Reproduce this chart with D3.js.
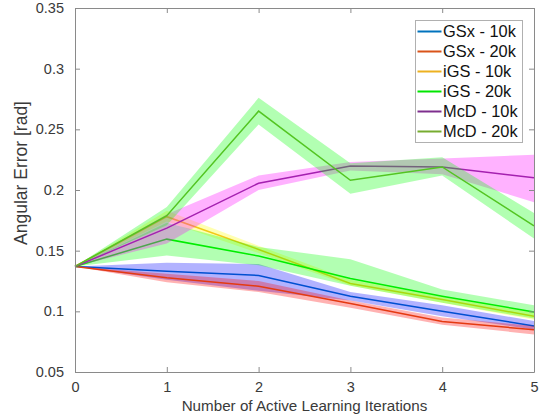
<!DOCTYPE html>
<html>
<head>
<meta charset="utf-8">
<script src="https://cdn.jsdelivr.net/npm/d3@7"></script>
<style>
  body { margin: 0; background: #fff; }
  svg text { font-family: "Liberation Sans", Arial, sans-serif; }
</style>
</head>
<body>
<div id="plot-container"></div>
<script>
// chart size and margins
var totalWidth = 540, totalHeight = 419;
var margins = {top: 8, right: 6, bottom: 47, left: 75};
var width = totalWidth - margins.left - margins.right;
var height = totalHeight - margins.top - margins.bottom;

// data
var iterations = [0, 1, 2, 3, 4, 5];
var xTicks = [0, 1, 2, 3, 4, 5];
var yTicks = [0.05, 0.1, 0.15, 0.2, 0.25, 0.3, 0.35];
var seriesNames = ['GSx - 10k', 'GSx - 20k', 'iGS - 10k', 'iGS - 20k', 'McD - 10k', 'McD - 20k'];
var lineColors = ['#0072BD', '#D95319', '#EDB120', '#00E600', '#7E2F8E', '#77AC30'];
var bandColors = ['#0000FF', '#FF0000', '#FFFF00', '#00FF00', '#FF00FF', '#00FF00'];

var gsx10Mean = [0.137, 0.133, 0.1296, 0.1125, 0.100, 0.088];
var gsx10Lo   = [0.137, 0.126, 0.117, 0.109, 0.096, 0.085];
var gsx10Hi   = [0.137, 0.140, 0.139, 0.116, 0.105, 0.092];

var gsx20Mean = [0.137, 0.1277, 0.1207, 0.1064, 0.0917, 0.0848];
var gsx20Lo   = [0.137, 0.124, 0.116, 0.103, 0.089, 0.081];
var gsx20Hi   = [0.137, 0.131, 0.125, 0.109, 0.095, 0.088];

var igs10Mean = [0.137, 0.178, 0.151, 0.123, 0.1097, 0.0959];
var igs10Lo   = [0.137, 0.174, 0.148, 0.121, 0.107, 0.093];
var igs10Hi   = [0.137, 0.183, 0.154, 0.126, 0.112, 0.099];

var igs20Mean = [0.137, 0.1595, 0.1456, 0.127, 0.1125, 0.0995];
var igs20Lo   = [0.137, 0.146, 0.138, 0.121, 0.107, 0.094];
var igs20Hi   = [0.137, 0.173, 0.153, 0.143, 0.118, 0.105];

var mcd10Mean = [0.137, 0.1686, 0.2056, 0.2197, 0.219, 0.210];
var mcd10Lo   = [0.137, 0.156, 0.200, 0.216, 0.213, 0.190];
var mcd10Hi   = [0.137, 0.180, 0.212, 0.223, 0.226, 0.229];

var mcd20Mean = [0.137, 0.1788, 0.265, 0.208, 0.219, 0.1705];
var mcd20Lo   = [0.137, 0.171, 0.254, 0.197, 0.212, 0.160];
var mcd20Hi   = [0.137, 0.186, 0.276, 0.222, 0.227, 0.181];

var means = [gsx10Mean, gsx20Mean, igs10Mean, igs20Mean, mcd10Mean, mcd20Mean];
var lows  = [gsx10Lo, gsx20Lo, igs10Lo, igs20Lo, mcd10Lo, mcd20Lo];
var highs = [gsx10Hi, gsx20Hi, igs10Hi, igs20Hi, mcd10Hi, mcd20Hi];

var series = seriesNames.map(function(name, i) {
  return {name: name, color: lineColors[i], band: bandColors[i],
    points: iterations.map(function(x, j) { return {x: x, y: means[i][j], lo: lows[i][j], hi: highs[i][j]}; })};
});

// scales
var xScale = d3.scaleLinear().domain([0, 5]).range([0, width]);
var yScale = d3.scaleLinear().domain([0.05, 0.35]).range([height, 0]);

var line = d3.line().x(function(d) { return xScale(d.x); }).y(function(d) { return yScale(d.y); });
var area = d3.area().x(function(d) { return xScale(d.x); })
  .y0(function(d) { return yScale(d.lo); }).y1(function(d) { return yScale(d.hi); });

var svg = d3.select('#plot-container').append('svg').attr('width', totalWidth).attr('height', totalHeight);
var plot = svg.append('g').attr('transform', 'translate(' + [margins.left, margins.top] + ')');

var axisColor = '#8a8a8a', textColor = '#3a3a3a';

// series: line then translucent band on top
series.forEach(function(s) {
  plot.append('path').attr('d', line(s.points)).attr('fill', 'none')
    .attr('stroke', s.color).attr('stroke-width', 1.5);
  plot.append('path').attr('d', area(s.points)).attr('fill', s.band)
    .attr('fill-opacity', 0.3).attr('stroke', 'none');
});

// axes, MATLAB box style with inward ticks
var tickLen = 5;
function styleAxis(g) {
  g.select('.domain').attr('stroke', axisColor);
  g.selectAll('.tick line').attr('stroke', axisColor);
  g.selectAll('.tick text').attr('fill', textColor).style('font-size', '14.5px');
}
plot.append('g').attr('transform', 'translate(0,' + height + ')')
  .call(d3.axisBottom(xScale).tickValues(xTicks).tickFormat(d3.format('d')).tickSizeInner(-tickLen).tickSizeOuter(0).tickPadding(10))
  .call(styleAxis);
plot.append('g')
  .call(d3.axisTop(xScale).tickValues(xTicks).tickFormat('').tickSizeInner(-tickLen).tickSizeOuter(0))
  .call(styleAxis);
plot.append('g')
  .call(d3.axisLeft(yScale).tickValues(yTicks).tickFormat(function(d) { return d3.format('')(+d.toFixed(2)); }).tickSizeInner(-tickLen).tickSizeOuter(0).tickPadding(11))
  .call(styleAxis);
plot.append('g').attr('transform', 'translate(' + width + ',0)')
  .call(d3.axisRight(yScale).tickValues(yTicks).tickFormat('').tickSizeInner(-tickLen).tickSizeOuter(0))
  .call(styleAxis);

// axis labels
svg.append('text').attr('x', margins.left + width / 2).attr('y', 411)
  .attr('text-anchor', 'middle').attr('fill', textColor).style('font-size', '15.2px')
  .text('Number of Active Learning Iterations');
svg.append('text').attr('transform', 'translate(27,173) rotate(-90)')
  .attr('text-anchor', 'middle').attr('fill', textColor).style('font-size', '17.5px')
  .text('Angular Error [rad]');

// legend
var legend = svg.append('g').attr('transform', 'translate(415.5,20.5)');
legend.append('rect').attr('width', 107).attr('height', 122)
  .attr('fill', '#fff').attr('stroke', '#b0b0b0').attr('stroke-width', 1);
var entries = legend.selectAll('g.entry').data(series).enter().append('g').attr('class', 'entry')
  .attr('transform', function(d, i) { return 'translate(0,' + (11 + i * 20) + ')'; });
entries.append('line').attr('x1', 2).attr('x2', 26).attr('stroke', function(d) { return d.color; }).attr('stroke-width', 2);
entries.append('text').attr('x', 27.5).attr('dy', '0.36em').attr('fill', '#111').style('font-size', '16.4px')
  .text(function(d) { return d.name; });
</script>
</body>
</html>
